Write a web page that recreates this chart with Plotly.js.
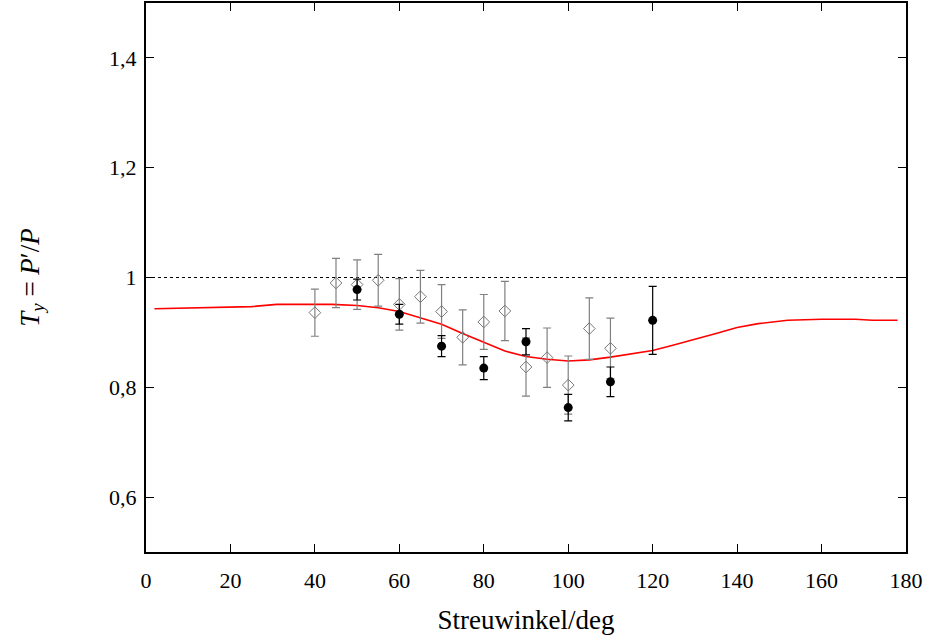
<!DOCTYPE html>
<html>
<head>
<meta charset="utf-8">
<script src="https://cdn.plot.ly/plotly-3.0.1.min.js"></script>
<style>html,body{margin:0;padding:0;background:#fff;}#chart{width:933px;height:642px;}</style>
</head>
<body>
<div id="chart"></div>
<script>
// Open diamonds (grey) data set
const diaX = [40, 45, 50, 55, 60, 65, 70, 75, 80, 85, 90, 95, 100, 105, 110];
const diaY = [0.936, 0.990, 0.987, 0.995, 0.951, 0.965, 0.938, 0.891, 0.919, 0.939, 0.837, 0.854, 0.804, 0.907, 0.871];
const diaErr = [0.043, 0.045, 0.045, 0.047, 0.047, 0.048, 0.049, 0.050, 0.050, 0.054, 0.053, 0.054, 0.053, 0.056, 0.055];

// Filled circles (black) data set
const dotX = [50, 60, 70, 80, 90, 100, 110, 120];
const dotY = [0.978, 0.933, 0.875, 0.835, 0.883, 0.763, 0.810, 0.922];
const dotErr = [0.019, 0.018, 0.019, 0.021, 0.024, 0.024, 0.027, 0.062];

// Theory curve (red)
const curveX = [2, 10, 20, 25, 31, 38, 44, 50, 55, 60, 65, 70, 75, 80, 85, 90, 95, 100, 105, 110, 115, 120, 125, 130, 135, 140, 145, 152, 160, 168, 172, 178];
const curveY = [0.943, 0.944, 0.946, 0.947, 0.951, 0.951, 0.951, 0.949, 0.945, 0.938, 0.927, 0.915, 0.898, 0.882, 0.866, 0.856, 0.851, 0.848, 0.850, 0.855, 0.861, 0.867, 0.877, 0.887, 0.898, 0.909, 0.916, 0.922, 0.924, 0.924, 0.922, 0.922];

// Reference line at 1
const refX = [0, 180];
const refY = [1, 1];

const traces = [
  {x: refX, y: refY, mode: 'lines', line: {color: '#000', width: 1.2, dash: 'dot'}, hoverinfo: 'skip'},
  {x: curveX, y: curveY, mode: 'lines', line: {color: '#ff0000', width: 1.6}},
  {x: diaX, y: diaY, mode: 'markers', type: 'scatter',
   marker: {symbol: 'diamond-open', size: 9, color: '#777', line: {width: 1, color: '#777'}},
   error_y: {type: 'data', array: diaErr, visible: true, color: '#808080', thickness: 1.2, width: 4}},
  {x: dotX, y: dotY, mode: 'markers', type: 'scatter',
   marker: {symbol: 'circle', size: 9, color: '#000'},
   error_y: {type: 'data', array: dotErr, visible: true, color: '#000', thickness: 1.2, width: 4}}
];

const fontFam = 'Liberation Serif, DejaVu Serif, serif';
const layout = {
  width: 933, height: 642,
  margin: {l: 146, r: 27, t: 3, b: 90},
  paper_bgcolor: '#fff', plot_bgcolor: '#fff',
  showlegend: false,
  separators: ',.',
  font: {family: fontFam, size: 22, color: '#000'},
  xaxis: {
    range: [0, 180], tick0: 0, dtick: 20, ticks: 'inside', ticklen: 8, tickwidth: 1, tickcolor: '#000',
    showgrid: false, zeroline: false, showline: true, linecolor: '#000', linewidth: 2, mirror: 'ticks',
    tickfont: {family: fontFam, size: 22}, ticklabelstandoff: 8,
    title: {text: 'Streuwinkel/deg', font: {family: fontFam, size: 27}, standoff: 18}
  },
  yaxis: {
    range: [0.5, 1.5], tick0: 0, dtick: 0.2, ticks: 'inside', ticklen: 8, tickwidth: 1, tickcolor: '#000',
    showgrid: false, zeroline: false, showline: true, linecolor: '#000', linewidth: 2, mirror: 'ticks',
    tickfont: {family: fontFam, size: 22}, ticklabelstandoff: 3,
    title: {text: '<i>T</i><sub><i>y</i></sub> = <i>P</i>′/<i>P</i>', font: {family: fontFam, size: 27}, standoff: 62}
  }
};

Plotly.newPlot('chart', traces, layout, {displayModeBar: false, staticPlot: true});
</script>
</body>
</html>
